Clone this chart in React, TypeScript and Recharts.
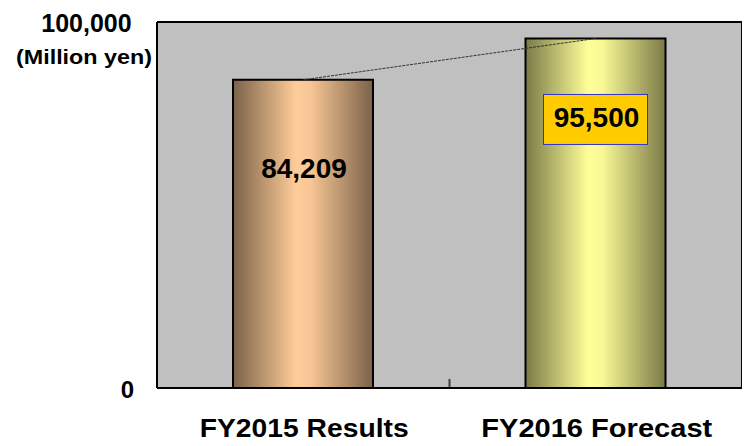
import React from 'react';
import { ComposedChart, Bar, Line, XAxis, YAxis, CartesianGrid, Cell, LabelList } from 'recharts';

const categories = ['FY2015 Results', 'FY2016 Forecast'];
const sales = [84209, 95500];
const yTicks = [0, 100000];
const unitLabel = '(Million yen)';

const data = categories.map((name, i) => ({ name, value: sales[i] }));

const gradientIds = ['gradResults', 'gradForecast'];
const labelStyles = [
  { dy: 98, box: false },
  { dy: 89, box: true },
];
const catTextLength = [209, 231];

const fmt = (v: number) => v.toLocaleString('en-US');

const FONT = '"Liberation Sans", Arial, sans-serif';

const YTick = (props: any) => {
  const { x, y, payload } = props;
  if (payload.value === 0) {
    return (
      <text x={x - 23} y={y + 10} textAnchor="end" fontFamily={FONT} fontWeight="bold" fontSize={24} fill="#000">
        {fmt(payload.value)}
      </text>
    );
  }
  return (
    <g>
      <text x={78.5} y={y + 10} textAnchor="middle" fontFamily={FONT} fontWeight="bold" fontSize={25} fill="#000">
        {fmt(payload.value)}
      </text>
      <text x={144} y={y + 42} textAnchor="end" fontFamily={FONT} fontWeight="bold" fontSize={20} fill="#000"
        textLength={136} lengthAdjust="spacingAndGlyphs">
        {unitLabel}
      </text>
    </g>
  );
};

const XTick = (props: any) => {
  const { x, y, payload, index } = props;
  const off = payload.offset ?? 146;
  return (
    <g>
      {index === 0 && (
        <line x1={x + off} x2={x + off} y1={y - 1} y2={y - 9} stroke="#404040" strokeWidth={2} />
      )}
      <text x={x + 1} y={y + 49} textAnchor="middle" fontFamily={FONT} fontWeight="bold" fontSize={26} fill="#000"
        textLength={catTextLength[index]} lengthAdjust="spacingAndGlyphs">
        {payload.value}
      </text>
    </g>
  );
};

const BarLabel = (props: any) => {
  const { x, y, width, value, index } = props;
  const st = labelStyles[index];
  const cx = x + width / 2;
  return (
    <g>
      {st.box && (
        <rect x={cx - 52} y={y + 56} width={104} height={50} fill="#ffcc00" stroke="#3333cc" strokeWidth={1} />
      )}
      <text x={cx + 1} y={y + st.dy} textAnchor="middle" fontFamily={FONT} fontWeight="bold" fontSize={28} fill="#000">
        {fmt(value)}
      </text>
    </g>
  );
};

export default function App() {
  return (
    <div style={{ height: 430, overflow: 'visible' }}>
      <ComposedChart width={742} height={438} data={data} margin={{ top: 14, right: 8, bottom: 0, left: 0 }}>
        <defs>
          <linearGradient id={gradientIds[0]} x1="0" y1="0" x2="1" y2="0">
            <stop offset="0%" stopColor="#7a6249" />
            <stop offset="45%" stopColor="#ffcc99" />
            <stop offset="55%" stopColor="#f8c796" />
            <stop offset="100%" stopColor="#7a6249" />
          </linearGradient>
          <linearGradient id={gradientIds[1]} x1="0" y1="0" x2="1" y2="0">
            <stop offset="0%" stopColor="#7a7a48" />
            <stop offset="45%" stopColor="#ffff99" />
            <stop offset="55%" stopColor="#f8f896" />
            <stop offset="100%" stopColor="#7a7a48" />
          </linearGradient>
        </defs>
        <CartesianGrid
          fill="#c0c0c0"
          fillOpacity={1}
          stroke="#000"
          strokeWidth={2}
          verticalCoordinatesGenerator={({ offset }: any) => [offset.left, offset.left + offset.width]}
          horizontalCoordinatesGenerator={({ offset }: any) => [offset.top, offset.top + offset.height]}
        />
        <XAxis
          dataKey="name"
          type="category"
          height={58}
          tickLine={false}
          tickSize={0}
          tickMargin={0}
          axisLine={{ stroke: '#000', strokeWidth: 2 }}
          tick={<XTick />}
          interval={0}
        />
        <YAxis
          width={149}
          domain={[0, 100000]}
          ticks={yTicks}
          tickLine={false}
          tickSize={0}
          tickMargin={0}
          axisLine={{ stroke: '#000', strokeWidth: 2 }}
          tick={<YTick />}
          interval={0}
        />
        <Bar dataKey="value" barSize={140} stroke="#000" strokeWidth={2} isAnimationActive={false}>
          {data.map((d, i) => (
            <Cell key={d.name} fill={`url(#${gradientIds[i]})`} />
          ))}
          <LabelList dataKey="value" content={<BarLabel />} />
        </Bar>
        <Line
          dataKey="value"
          stroke="#333"
          strokeWidth={1}
          strokeDasharray="3 1"
          dot={false}
          activeDot={false}
          isAnimationActive={false}
        />
      </ComposedChart>
    </div>
  );
}
